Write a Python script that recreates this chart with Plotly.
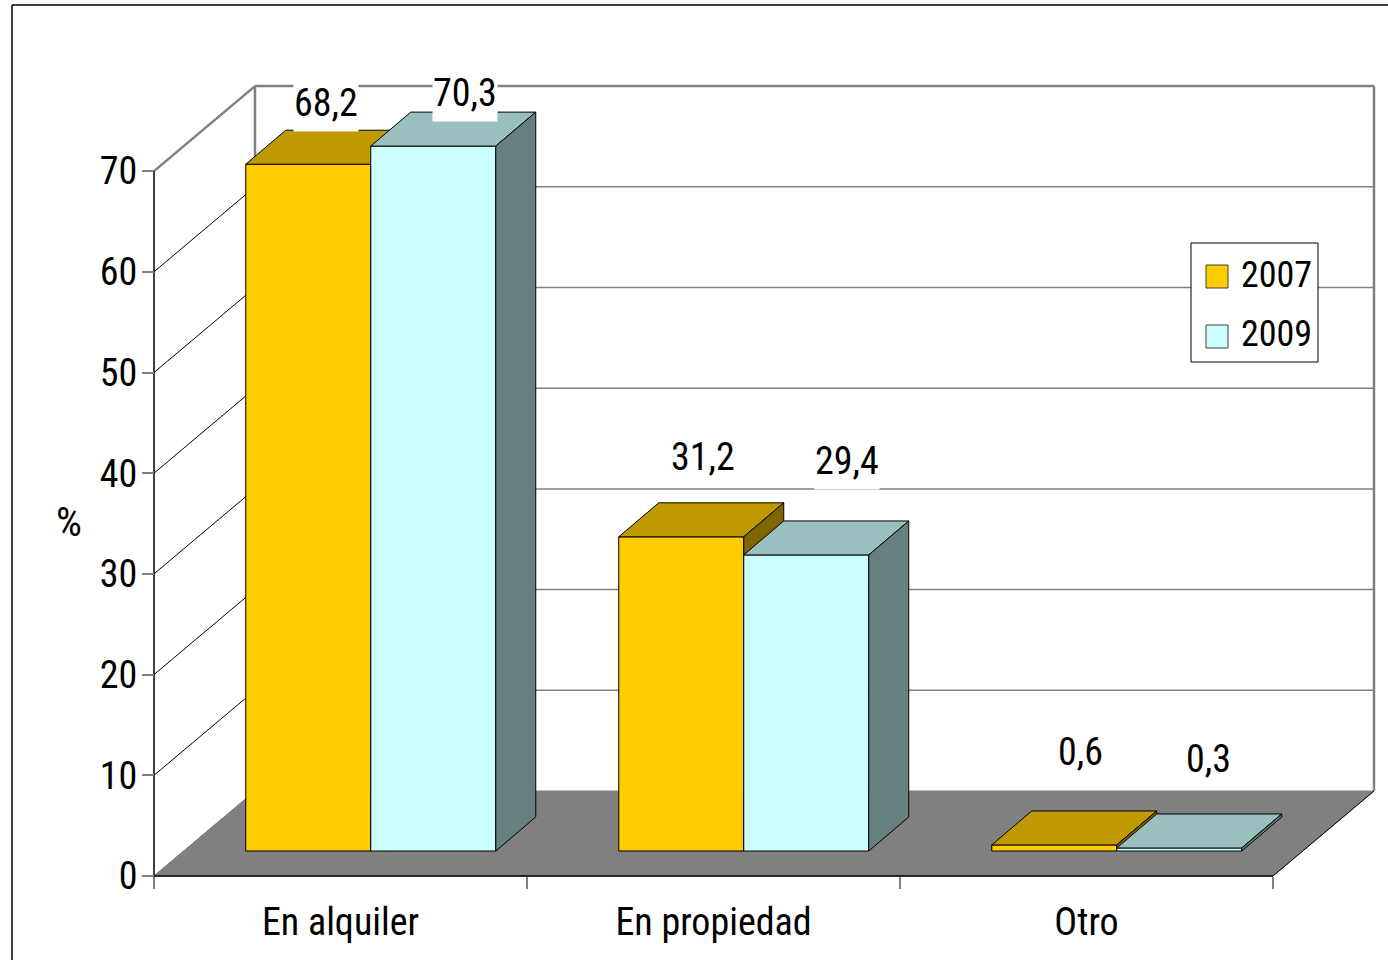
import plotly.graph_objects as go

# ---- data ----
categories = ["En alquiler", "En propiedad", "Otro"]
values_2007 = [68.2, 31.2, 0.6]
values_2009 = [70.3, 29.4, 0.3]
labels_2007 = ["68,2", "31,2", "0,6"]
labels_2009 = ["70,3", "29,4", "0,3"]
y_ticks = [0, 10, 20, 30, 40, 50, 60, 70]
AXIS_MAX = 70  # the chart clips bars at its axis maximum

# ---- geometry ----
W, H = 1388, 960
PX_L, PX_B = 154, 876
PX_PER_CAT = 373.0
PX_PER_UNIT = 10.07
# the plot area fills the whole page; the axes are placed freely inside it
x_range = [-PX_L / PX_PER_CAT, (W - PX_L) / PX_PER_CAT]
y_range = [-(H - PX_B) / PX_PER_UNIT, PX_B / PX_PER_UNIT]
x_pos = PX_L / W
y_pos = 1 - PX_B / H
FONT = "Roboto Condensed, Liberation Sans, Arial, sans-serif"
FS = 38

def ux(px): return px / PX_PER_CAT
def uy(px): return px / PX_PER_UNIT

WALL_DX, WALL_DY = ux(101), uy(85)
FRONT_DX, FRONT_DY = ux(30.25), uy(25)
BAR_DX, BAR_DY = ux(40), uy(34)
BAR_W = ux(125)

fig = go.Figure()

def poly(xs, ys, fill, line="#000000", lw=1, ax=("x", "y"), name=""):
    fig.add_trace(go.Scatter(x=xs + xs[:1], y=ys + ys[:1], mode="lines", fill="toself",
                             fillcolor=fill, line=dict(color=line, width=lw), hoverinfo="skip",
                             showlegend=False, xaxis=ax[0], yaxis=ax[1], name=name))

def seg(xs, ys, color, lw):
    fig.add_trace(go.Scatter(x=xs, y=ys, mode="lines", line=dict(color=color, width=lw),
                             hoverinfo="skip", showlegend=False))

# floor
floor_right = len(categories)
poly([0, floor_right, floor_right + WALL_DX, WALL_DX], [0, 0, WALL_DY, WALL_DY], "#808080", "#808080", 1)
seg([floor_right, floor_right + WALL_DX], [0, WALL_DY], "#000000", 1)
seg([0, WALL_DX], [0, WALL_DY], "#808080", 1)

# side-wall diagonals and back-wall grid
for t in y_ticks[1:]:
    top = t == AXIS_MAX
    seg([WALL_DX, floor_right + WALL_DX], [t + WALL_DY, t + WALL_DY], "#808080", 2.5 if top else 1.5)
    seg([0, WALL_DX], [t, t + WALL_DY], "#808080" if top else "#000000", 2.5 if top else 1)
seg([WALL_DX, WALL_DX], [WALL_DY, AXIS_MAX + WALL_DY], "#808080", 2.5)
seg([floor_right + WALL_DX, floor_right + WALL_DX], [WALL_DY, AXIS_MAX + WALL_DY], "#808080", 2.5)

# axis lines
seg([0, 0], [-uy(12), AXIS_MAX], "#000000", 1.5)
seg([0, floor_right], [0, 0], "#000000", 1.5)

# bars
def series(name, values, offset, front, top, side, ax):
    xs = [i + 0.5 + FRONT_DX + offset * BAR_W for i in range(len(categories))]
    plotted = [min(v, AXIS_MAX) for v in values]
    fig.add_trace(go.Bar(x=xs, y=plotted, base=[FRONT_DY] * len(xs), width=[BAR_W] * len(xs),
                         marker=dict(color=front, line=dict(color="#000000", width=1)),
                         name=name, showlegend=False, xaxis=ax[0], yaxis=ax[1]))
    for xc, v in zip(xs, plotted):
        l, r = xc - BAR_W / 2, xc + BAR_W / 2
        t = FRONT_DY + v
        poly([l, r, r + BAR_DX, l + BAR_DX], [t, t, t + BAR_DY, t + BAR_DY], top, ax=ax)
        poly([r, r + BAR_DX, r + BAR_DX, r], [FRONT_DY, FRONT_DY + BAR_DY, t + BAR_DY, t], side, ax=ax)
    return xs, plotted

xs07, p07 = series("2007", values_2007, -0.5, "#FFCC00", "#BF9900", "#806600", ("x2", "y2"))
xs09, p09 = series("2009", values_2009, 0.5, "#CCFFFF", "#99BFBF", "#668080", ("x3", "y3"))

# value labels: anchored at the back-top centre of each bar, with a pixel nudge
nudges_2007 = [(-22, 27), (-18, 46), (-14, 59)]
nudges_2009 = [(-8, 19), (1, 60), (-11, 55)]
annotations = []
for xs, plotted, labels, nudges in [(xs07, p07, labels_2007, nudges_2007), (xs09, p09, labels_2009, nudges_2009)]:
    for xc, v, text, (nx, ny) in zip(xs, plotted, labels, nudges):
        annotations.append(dict(x=xc + BAR_DX, y=FRONT_DY + v + BAR_DY, text=text, showarrow=False,
                                xref="x", yref="y", xanchor="center", yanchor="middle", valign="middle",
                                xshift=nx, yshift=ny, font=dict(family=FONT, size=FS, color="#000000"),
                                bgcolor="#FFFFFF", borderpad=0, height=56))

def px(v): return v / W
def py(v): return 1 - v / H

annotations.append(dict(x=px(69), y=py(522), xref="paper", yref="paper", text="%", showarrow=False,
                        xanchor="center", yanchor="middle", font=dict(family=FONT, size=FS + 3, color="#000000")))

# legend
years = ["2007", "2009"]
swatches = ["#FFCC00", "#CCFFFF"]
shapes = [
    dict(type="line", xref="paper", yref="paper", x0=px(12), x1=px(12), y0=py(5), y1=py(960), line=dict(color="#000000", width=1.5), layer="below"),
    dict(type="line", xref="paper", yref="paper", x0=px(12), x1=px(1388), y0=py(5), y1=py(5), line=dict(color="#000000", width=1.5), layer="below"),
    dict(type="rect", xref="paper", yref="paper", x0=px(1191), x1=px(1318), y0=py(243), y1=py(362), fillcolor="#FFFFFF", line=dict(color="#000000", width=1), layer="above"),
]
for yr, col, sy, ty in zip(years, swatches, [265, 325], [275, 334]):
    shapes.append(dict(type="rect", xref="paper", yref="paper", x0=px(1206), x1=px(1228), y0=py(sy), y1=py(sy + 23),
                       fillcolor=col, line=dict(color="#404040", width=1), layer="above"))
    annotations.append(dict(x=px(1239), y=py(ty), xref="paper", yref="paper", text=yr, showarrow=False,
                            xanchor="left", yanchor="middle", font=dict(family=FONT, size=FS - 2, color="#000000")))

common = dict(automargin=False, showgrid=False, zeroline=False, showline=False)
hidden_y = dict(range=y_range, visible=False, fixedrange=True, automargin=False)

fig.update_layout(
    template="none",
    width=W, height=H, margin=dict(l=0, r=0, t=0, b=0, pad=0), autosize=False,
    paper_bgcolor="#FFFFFF", plot_bgcolor="rgba(0,0,0,0)", showlegend=False, barmode="overlay",
    annotations=annotations, shapes=shapes,
    xaxis=dict(range=x_range, domain=[0, 1], anchor="free", position=y_pos, tickmode="array",
               tickvals=[i + 0.5 for i in range(len(categories))], ticktext=categories,
               ticks="outside", ticklen=12, tickcolor="rgba(0,0,0,0)",
               tickfont=dict(family=FONT, size=FS, color="#000000"), **common),
    yaxis=dict(range=y_range, domain=[0, 1], anchor="free", position=x_pos, tickmode="array",
               tickvals=y_ticks, ticktext=[str(t) for t in y_ticks],
               ticks="outside", ticklen=12, tickwidth=1.5, tickcolor="#808080", ticklabelstandoff=-3,
               tickfont=dict(family=FONT, size=FS, color="#000000"), **common),
    xaxis2=dict(range=x_range, domain=[0, 1], overlaying="x", anchor="free", position=y_pos, tickmode="array",
                tickvals=list(range(len(categories) + 1)), ticks="outside", ticklen=12, tickwidth=1.5, tickcolor="#808080",
                showticklabels=False, **common),
    yaxis2=dict(overlaying="y", anchor="x2", **hidden_y),
    xaxis3=dict(range=x_range, domain=[0, 1], overlaying="x", anchor="y3", visible=False, automargin=False),
    yaxis3=dict(overlaying="y", anchor="x3", **hidden_y),
)

fig.write_html("out.html", config=dict(displayModeBar=False),
               post_script="document.body.style.margin='0';document.body.style.overflow='hidden';")
